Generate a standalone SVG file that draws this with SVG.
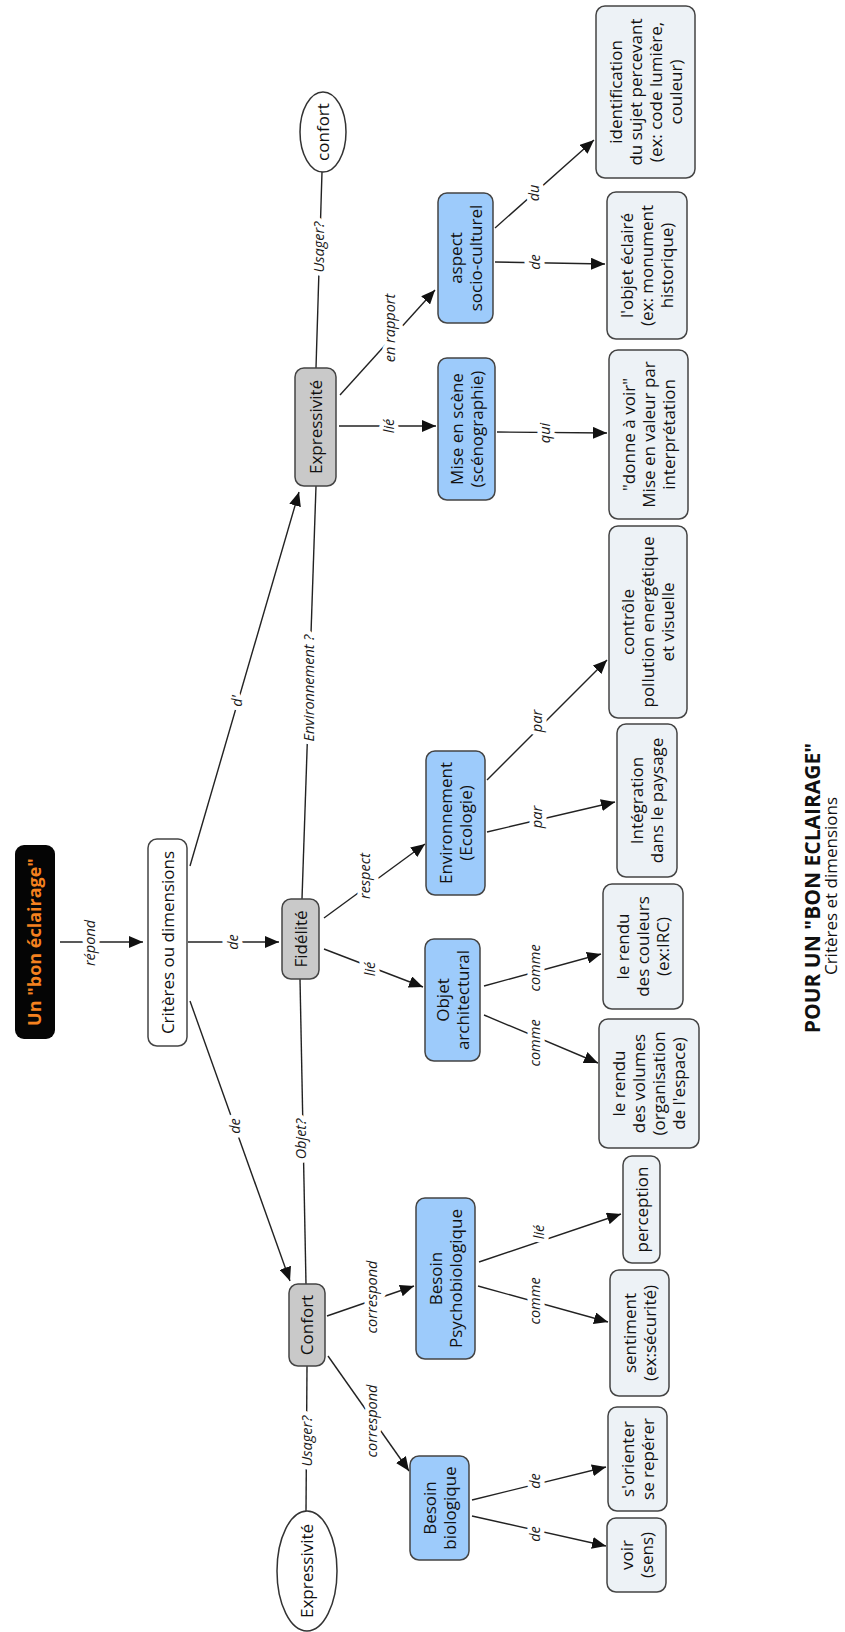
<svg xmlns="http://www.w3.org/2000/svg" width="845" height="1632" viewBox="0 0 845 1632">
<defs>
<marker id="ah" markerUnits="userSpaceOnUse" markerWidth="15" markerHeight="12" refX="14" refY="6" orient="auto">
<path d="M0,0 L14,6 L0,12 z" fill="#111"/>
</marker>
<style>
.c line{stroke:#222;stroke-width:1.4;fill:none}
.a{marker-end:url(#ah)}
.lbl{font-family:"Open Sans","DejaVu Sans",sans-serif;font-style:italic;font-size:14.5px;text-anchor:middle;fill:#1a1a1a;stroke:#fff;stroke-width:9;paint-order:stroke;stroke-linejoin:round}
.t{font-family:"Open Sans","DejaVu Sans",sans-serif;font-size:17px;text-anchor:middle;fill:#111}
.box{stroke:#444;stroke-width:1.5}
.blue{fill:#9dcbfb}
.leaf{fill:#edf2f6}
.gray{fill:#c9c9c9}
.white{fill:#fff}
</style>
</defs>
<rect width="845" height="1632" fill="#fff"/>

<g id="connectors" class="c">
<line class="a" x1="60" y1="942" x2="143" y2="942"/>
<line class="a" x1="188" y1="942" x2="279" y2="942"/>
<line class="a" x1="190" y1="866" x2="299" y2="492"/>
<line class="a" x1="190" y1="1001" x2="290" y2="1281"/>
<line x1="316" y1="368" x2="322" y2="172"/>
<line class="a" x1="340" y1="395" x2="435" y2="290"/>
<line class="a" x1="339" y1="426" x2="436" y2="426"/>
<line class="a" x1="495" y1="228" x2="594" y2="140"/>
<line class="a" x1="495" y1="262" x2="605" y2="264"/>
<line class="a" x1="497" y1="432" x2="607" y2="433"/>
<line x1="302" y1="899" x2="316" y2="486"/>
<line class="a" x1="324" y1="918" x2="425" y2="844"/>
<line class="a" x1="324" y1="949" x2="423" y2="987"/>
<line class="a" x1="487" y1="780" x2="607" y2="660"/>
<line class="a" x1="487" y1="832" x2="615" y2="802"/>
<line class="a" x1="484" y1="986" x2="601" y2="954"/>
<line class="a" x1="484" y1="1015" x2="598" y2="1063"/>
<line x1="300" y1="979" x2="306" y2="1284"/>
<line class="a" x1="327" y1="1316" x2="414" y2="1286"/>
<line class="a" x1="328" y1="1356" x2="409" y2="1471"/>
<line class="a" x1="479" y1="1262" x2="621" y2="1214"/>
<line class="a" x1="478" y1="1286" x2="608" y2="1322"/>
<line class="a" x1="472" y1="1500" x2="606" y2="1467"/>
<line class="a" x1="472" y1="1516" x2="606" y2="1546"/>
<line x1="307" y1="1366" x2="306" y2="1511"/>

<text class="lbl" transform="translate(90 943) rotate(-90)" y="5">répond</text>
<text class="lbl" transform="translate(233 942) rotate(-90)" y="5">de</text>
<text class="lbl" transform="translate(237 701) rotate(-90)" y="5">d'</text>
<text class="lbl" transform="translate(235 1126) rotate(-90)" y="5">de</text>
<text class="lbl" transform="translate(319 247) rotate(-90)" y="5">Usager?</text>
<text class="lbl" transform="translate(390 328) rotate(-90)" y="5">en rapport</text>
<text class="lbl" transform="translate(389 426) rotate(-90)" y="5">lié</text>
<text class="lbl" transform="translate(534 193) rotate(-90)" y="5">du</text>
<text class="lbl" transform="translate(535 262) rotate(-90)" y="5">de</text>
<text class="lbl" transform="translate(545 433) rotate(-90)" y="5">qui</text>
<text class="lbl" transform="translate(309 688) rotate(-90)" y="5">Environnement ?</text>
<text class="lbl" transform="translate(365 876) rotate(-90)" y="5">respect</text>
<text class="lbl" transform="translate(370 969) rotate(-90)" y="5">lié</text>
<text class="lbl" transform="translate(537 721) rotate(-90)" y="5">par</text>
<text class="lbl" transform="translate(537 817) rotate(-90)" y="5">par</text>
<text class="lbl" transform="translate(535 968) rotate(-90)" y="5">comme</text>
<text class="lbl" transform="translate(535 1043) rotate(-90)" y="5">comme</text>
<text class="lbl" transform="translate(301 1139) rotate(-90)" y="5">Objet?</text>
<text class="lbl" transform="translate(372 1297) rotate(-90)" y="5">correspond</text>
<text class="lbl" transform="translate(372 1421) rotate(-90)" y="5">correspond</text>
<text class="lbl" transform="translate(539 1232) rotate(-90)" y="5">lié</text>
<text class="lbl" transform="translate(535 1301) rotate(-90)" y="5">comme</text>
<text class="lbl" transform="translate(535 1481) rotate(-90)" y="5">de</text>
<text class="lbl" transform="translate(535 1534) rotate(-90)" y="5">de</text>
<text class="lbl" transform="translate(307 1441) rotate(-90)" y="5">Usager?</text>
</g>

<g id="n-bon-eclairage">
<rect x="15" y="845" width="40" height="194" rx="9" fill="#050505"/>
<text class="t" transform="translate(35 942) rotate(-90)" y="6" style="font-weight:bold;fill:#f5821f;font-size:18px">Un "bon éclairage"</text>
</g>
<g id="n-criteres">
<rect class="box white" x="148" y="839" width="39" height="207" rx="9"/>
<text class="t" transform="translate(167.5 942.5) rotate(-90)" y="6">Critères ou dimensions</text>
</g>
<g id="n-fidelite">
<rect class="box gray" x="282" y="899" width="37" height="80" rx="9"/>
<text class="t" transform="translate(300.5 939) rotate(-90)" y="6">Fidélité</text>
</g>
<g id="n-expressivite">
<rect class="box gray" x="295" y="368" width="41" height="118" rx="9"/>
<text class="t" transform="translate(315.5 427) rotate(-90)" y="6">Expressivité</text>
</g>
<g id="n-confort">
<rect class="box gray" x="289" y="1284" width="36" height="82" rx="9"/>
<text class="t" transform="translate(307 1325) rotate(-90)" y="6">Confort</text>
</g>
<g id="n-confort-ellipse">
<ellipse cx="323" cy="132" rx="23" ry="40" fill="#fff" stroke="#333" stroke-width="1.5"/>
<text class="t" transform="translate(323 132) rotate(-90)" y="6">confort</text>
</g>
<g id="n-expressivite-ellipse">
<ellipse cx="307" cy="1571" rx="30" ry="60" fill="#fff" stroke="#333" stroke-width="1.5"/>
<text class="t" transform="translate(307 1571) rotate(-90)" y="6">Expressivité</text>
</g>
<g id="n-objet-architectural">
<rect class="box blue" x="425" y="939" width="55" height="122" rx="9"/>
<text class="t" transform="translate(452.5 1000) rotate(-90)"><tspan x="0" y="-4">Objet</tspan><tspan x="0" y="16">architectural</tspan></text>
</g>
<g id="n-environnement">
<rect class="box blue" x="426" y="751" width="59" height="144" rx="9"/>
<text class="t" transform="translate(455.5 823) rotate(-90)"><tspan x="0" y="-4">Environnement</tspan><tspan x="0" y="16">(Ecologie)</tspan></text>
</g>
<g id="n-mise-en-scene">
<rect class="box blue" x="438" y="358" width="57" height="142" rx="9"/>
<text class="t" transform="translate(466.5 429) rotate(-90)"><tspan x="0" y="-4">Mise en scène</tspan><tspan x="0" y="16">(scénographie)</tspan></text>
</g>
<g id="n-aspect">
<rect class="box blue" x="438" y="193" width="55" height="130" rx="9"/>
<text class="t" transform="translate(465.5 258) rotate(-90)"><tspan x="0" y="-4">aspect</tspan><tspan x="0" y="16">socio-culturel</tspan></text>
</g>
<g id="n-besoin-psycho">
<rect class="box blue" x="416" y="1198" width="59" height="161" rx="9"/>
<text class="t" transform="translate(445.5 1278.5) rotate(-90)"><tspan x="0" y="-4">Besoin</tspan><tspan x="0" y="16">Psychobiologique</tspan></text>
</g>
<g id="n-besoin-bio">
<rect class="box blue" x="410" y="1456" width="59" height="104" rx="9"/>
<text class="t" transform="translate(439.5 1508) rotate(-90)"><tspan x="0" y="-4">Besoin</tspan><tspan x="0" y="16">biologique</tspan></text>
</g>
<g id="n-identification">
<rect class="box leaf" x="596" y="6" width="99" height="172" rx="9"/>
<text class="t" transform="translate(645.5 92) rotate(-90)"><tspan x="0" y="-24">identification</tspan><tspan x="0" y="-4">du sujet percevant</tspan><tspan x="0" y="16">(ex: code lumière,</tspan><tspan x="0" y="36">couleur)</tspan></text>
</g>
<g id="n-objet-eclaire">
<rect class="box leaf" x="607" y="192" width="80" height="147" rx="9"/>
<text class="t" transform="translate(647 265.5) rotate(-90)"><tspan x="0" y="-14">l'objet éclairé</tspan><tspan x="0" y="6">(ex: monument</tspan><tspan x="0" y="26">historique)</tspan></text>
</g>
<g id="n-donne-a-voir">
<rect class="box leaf" x="609" y="350" width="79" height="169" rx="9"/>
<text class="t" transform="translate(648.5 434.5) rotate(-90)"><tspan x="0" y="-14">"donne à voir"</tspan><tspan x="0" y="6">Mise en valeur par</tspan><tspan x="0" y="26">interprétation</tspan></text>
</g>
<g id="n-controle">
<rect class="box leaf" x="609" y="526" width="78" height="192" rx="9"/>
<text class="t" transform="translate(648 622) rotate(-90)"><tspan x="0" y="-14">contrôle</tspan><tspan x="0" y="6">pollution energétique</tspan><tspan x="0" y="26">et visuelle</tspan></text>
</g>
<g id="n-integration">
<rect class="box leaf" x="617" y="724" width="60" height="153" rx="9"/>
<text class="t" transform="translate(647 800.5) rotate(-90)"><tspan x="0" y="-4">Intégration</tspan><tspan x="0" y="16">dans le paysage</tspan></text>
</g>
<g id="n-rendu-couleurs">
<rect class="box leaf" x="603" y="884" width="80" height="125" rx="9"/>
<text class="t" transform="translate(643 946.5) rotate(-90)"><tspan x="0" y="-14">le rendu</tspan><tspan x="0" y="6">des couleurs</tspan><tspan x="0" y="26">(ex:IRC)</tspan></text>
</g>
<g id="n-rendu-volumes">
<rect class="box leaf" x="599" y="1019" width="100" height="129" rx="9"/>
<text class="t" transform="translate(649 1083.5) rotate(-90)"><tspan x="0" y="-24">le rendu</tspan><tspan x="0" y="-4">des volumes</tspan><tspan x="0" y="16">(organisation</tspan><tspan x="0" y="36">de l'espace)</tspan></text>
</g>
<g id="n-perception">
<rect class="box leaf" x="623" y="1156" width="37" height="107" rx="9"/>
<text class="t" transform="translate(641.5 1209.5) rotate(-90)" y="6">perception</text>
</g>
<g id="n-sentiment">
<rect class="box leaf" x="610" y="1270" width="59" height="126" rx="9"/>
<text class="t" transform="translate(639.5 1333) rotate(-90)"><tspan x="0" y="-4">sentiment</tspan><tspan x="0" y="16">(ex:sécurité)</tspan></text>
</g>
<g id="n-orienter">
<rect class="box leaf" x="608" y="1407" width="59" height="104" rx="9"/>
<text class="t" transform="translate(637.5 1459) rotate(-90)"><tspan x="0" y="-4">s'orienter</tspan><tspan x="0" y="16">se repérer</tspan></text>
</g>
<g id="n-voir">
<rect class="box leaf" x="607" y="1518" width="59" height="74" rx="9"/>
<text class="t" transform="translate(636.5 1555) rotate(-90)"><tspan x="0" y="-4">voir</tspan><tspan x="0" y="16">(sens)</tspan></text>
</g>

<g id="title">
<text class="t" transform="translate(812 888) rotate(-90)" y="7.5" style="font-weight:bold;font-size:21px">POUR UN "BON ECLAIRAGE"</text>
<text class="t" transform="translate(831 886) rotate(-90)" y="6">Critères et dimensions</text>
</g>
</svg>
